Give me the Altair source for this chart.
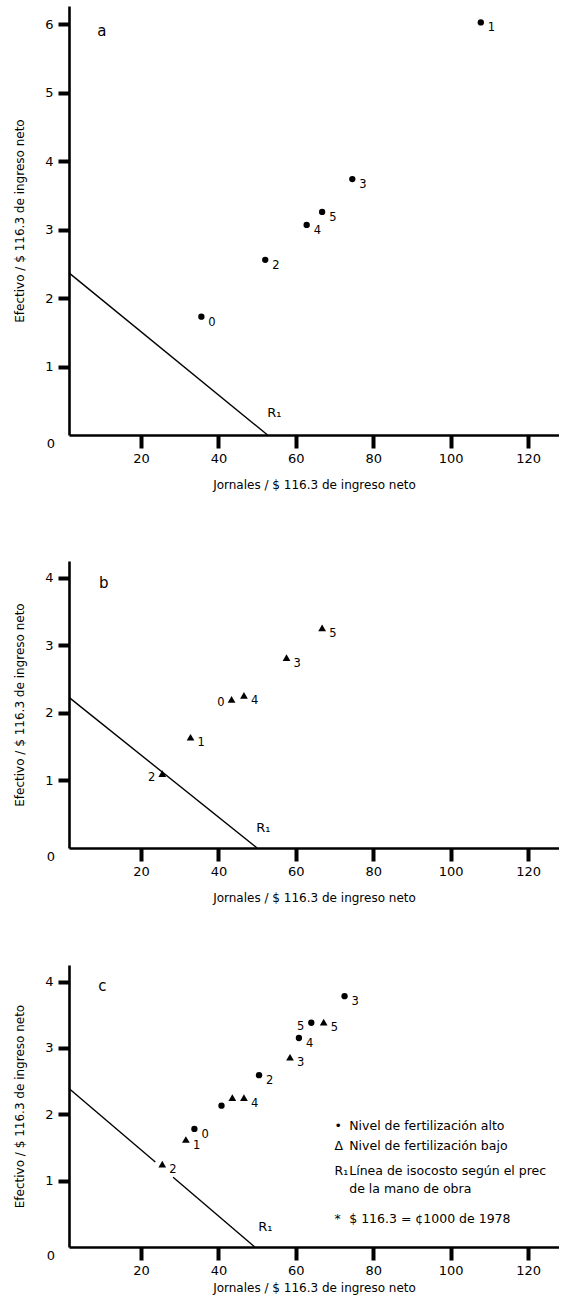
import altair as alt
import pandas as pd

# ---------------- data ----------------
# Panel a: high fertilisation level
a_x = [35.6, 107.8, 52.1, 74.6, 62.8, 66.8]
a_y = [1.73, 6.03, 2.56, 3.74, 3.07, 3.26]
a_lab = ["0", "1", "2", "3", "4", "5"]
a_side = ["r", "r", "r", "r", "r", "r"]

# Panel b: low fertilisation level
b_x = [43.4, 32.8, 25.5, 57.6, 46.6, 66.8]
b_y = [2.20, 1.64, 1.10, 2.82, 2.26, 3.26]
b_lab = ["0", "1", "2", "3", "4", "5"]
b_side = ["l", "r", "l", "r", "r", "r"]

# Panel c: both levels
c_hi_x = [33.8, 40.8, 50.5, 72.6, 60.8, 64.0]
c_hi_y = [1.78, 2.13, 2.59, 3.78, 3.15, 3.38]
c_hi_lab = ["0", "", "2", "3", "4", "5"]
c_hi_side = ["r", "r", "r", "r", "r", "l"]

c_lo_x = [43.6, 31.6, 25.5, 58.5, 46.6, 67.2]
c_lo_y = [2.25, 1.62, 1.25, 2.86, 2.25, 3.39]
c_lo_lab = ["", "1", "2", "3", "4", "5"]
c_lo_side = ["r", "r", "r", "r", "r", "r"]

# Isocost lines (R1)
a_line_x = [1.4, 52.7]
a_line_y = [2.37, 0.0]
a_line_seg = [0, 0]
b_line_x = [1.4, 50.0]
b_line_y = [2.23, 0.0]
b_line_seg = [0, 0]
c_line_x = [1.4, 23.7, 28.3, 49.4]
c_line_y = [2.39, 1.28, 1.05, 0.0]
c_line_seg = [0, 0, 1, 1]

r1_pos = {"a": (52.6, 0.32), "b": (49.8, 0.30), "c": (50.3, 0.30)}
panel_letter_pos = {"a": (9.9, 5.9), "b": (10.4, 3.92), "c": (10.0, 3.93)}

legend_sym = ["•", "Δ", "R₁", "", "*"]
legend_txt = ["Nivel de fertilización alto",
              "Nivel de fertilización bajo",
              "Línea de isocosto según el prec",
              "de la mano de obra",
              "$ 116.3 = ¢1000 de 1978"]
legend_y = [1.82, 1.52, 1.14, 0.87, 0.42]
legend_sym_x = 70.0
legend_txt_x = 73.8

x_ticks = [20, 40, 60, 80, 100, 120]
x_title = "Jornales / $ 116.3 de ingreso neto"
y_title = "Efectivo / $ 116.3 de ingreso neto"
origin_label = "0"

X_DOMAIN = [1.4, 128]
FONT = "DejaVu Sans"
TICK = "#000000"


def pts(xs, ys, labs, sides):
    return pd.DataFrame({"x": xs, "y": ys, "lab": labs, "side": sides})


def panel(letter, hi, lo, line, ymax, yticks, height, legend=False, xtitle_pad=14):
    xs = alt.X("x:Q", scale=alt.Scale(domain=X_DOMAIN, nice=False, zero=False),
               axis=alt.Axis(values=x_ticks, title=x_title, tickSize=13, tickWidth=4,
                             tickColor=TICK, tickOpacity=1,
                             labelPadding=4, titlePadding=xtitle_pad, format="d"))
    ys = alt.Y("y:Q", scale=alt.Scale(domain=[0, ymax], nice=False),
               axis=alt.Axis(values=yticks, title=y_title, tickSize=11, tickWidth=4,
                             tickColor=TICK, tickOpacity=1, format="d",
                             labelPadding=5, titlePadding=18))
    layers = []
    ldf = pd.DataFrame({"x": line[0], "y": line[1], "seg": line[2]})
    layers.append(alt.Chart(ldf).mark_line(color="black", strokeWidth=1.4)
                  .encode(x=xs, y=ys, detail="seg:N"))
    for df, shape, size in ((hi, "circle", 40), (lo, "triangle-up", 60)):
        if df is None:
            continue
        base = alt.Chart(df)
        layers.append(base.mark_point(shape=shape, filled=True, color="black",
                                      size=size, opacity=1)
                      .encode(x="x:Q", y="y:Q"))
        layers.append(base.transform_filter("datum.side == 'r'")
                      .mark_text(align="left", dx=7, dy=6, fontSize=11.5, font=FONT, color="black")
                      .encode(x="x:Q", y="y:Q", text="lab:N"))
        layers.append(base.transform_filter("datum.side == 'l'")
                      .mark_text(align="right", dx=-7, dy=4, fontSize=11.5, font=FONT, color="black")
                      .encode(x="x:Q", y="y:Q", text="lab:N"))
    rx, ry = r1_pos[letter]
    layers.append(alt.Chart(pd.DataFrame({"x": [rx], "y": [ry], "t": ["R₁"]}))
                  .mark_text(align="left", fontSize=13, font=FONT, color="black")
                  .encode(x="x:Q", y="y:Q", text="t:N"))
    px, py = panel_letter_pos[letter]
    layers.append(alt.Chart(pd.DataFrame({"x": [px], "y": [py], "t": [letter]}))
                  .mark_text(align="center", fontSize=15, font=FONT, color="black")
                  .encode(x="x:Q", y="y:Q", text="t:N"))
    # origin "0" label, set slightly below the corner as in the original
    layers.append(alt.Chart(pd.DataFrame({"x": [X_DOMAIN[0]], "y": [0], "t": [origin_label]}))
                  .mark_text(align="right", baseline="middle", dx=-14, dy=9, fontSize=13,
                             font=FONT, color="black")
                  .encode(x="x:Q", y="y:Q", text="t:N"))
    if legend:
        lg = pd.DataFrame({"y": legend_y, "s": legend_sym, "t": legend_txt})
        layers.append(alt.Chart(lg).transform_calculate(x=str(legend_sym_x))
                      .mark_text(align="left", fontSize=12.5, font=FONT, color="black")
                      .encode(x="x:Q", y="y:Q", text="s:N"))
        layers.append(alt.Chart(lg).transform_calculate(x=str(legend_txt_x))
                      .mark_text(align="left", fontSize=12.5, font=FONT, color="black")
                      .encode(x="x:Q", y="y:Q", text="t:N"))
    return alt.layer(*layers).properties(width=490, height=height)


pa = panel("a", pts(a_x, a_y, a_lab, a_side), None,
           (a_line_x, a_line_y, a_line_seg), 6.27, [1, 2, 3, 4, 5, 6], 429, xtitle_pad=14)
pb = panel("b", None, pts(b_x, b_y, b_lab, b_side),
           (b_line_x, b_line_y, b_line_seg), 4.25, [1, 2, 3, 4], 287, xtitle_pad=14)
pc = panel("c", pts(c_hi_x, c_hi_y, c_hi_lab, c_hi_side),
           pts(c_lo_x, c_lo_y, c_lo_lab, c_lo_side),
           (c_line_x, c_line_y, c_line_seg), 4.25, [1, 2, 3, 4], 282, legend=True,
           xtitle_pad=5)

chart = alt.vconcat(pa, alt.vconcat(pb, pc, spacing=62), spacing=71).properties(
    padding={"left": 13, "top": 6, "right": 0, "bottom": 12},
    background="white",
).configure_view(stroke=None).configure_axis(
    grid=False, domainColor="black", domainWidth=2.6,
    labelColor="black", titleColor="black", labelFont=FONT, titleFont=FONT,
    labelFontSize=13, titleFontSize=12, titleFontWeight="normal",
)

chart.save("out.html", embed_options={"renderer": "svg", "actions": False})
